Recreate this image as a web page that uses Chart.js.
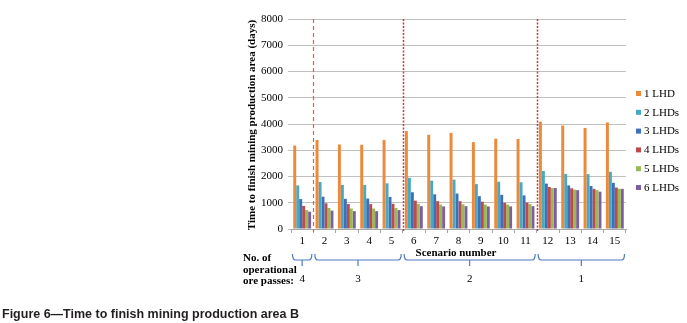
<!DOCTYPE html>
<html>
<head>
<meta charset="utf-8">
<script src="https://cdn.jsdelivr.net/npm/chart.js@4/dist/chart.umd.min.js"></script>
<style>
  html, body { margin: 0; padding: 0; background: #fff; }
  #wrap { width: 687px; height: 323px; position: relative; }
</style>
</head>
<body>
<div id="wrap"><canvas id="chart" width="687" height="323"></canvas></div>
<script>
// Scenario numbers on the x axis
const scenarios = ['1', '2', '3', '4', '5', '6', '7', '8', '9', '10', '11', '12', '13', '14', '15']

// Days to finish, one array per fleet size
const lhd1 = [3180, 3390, 3220, 3210, 3390, 3730, 3590, 3660, 3310, 3440, 3430, 4090, 3940, 3850, 4060]
const lhd2 = [1660, 1790, 1680, 1680, 1740, 1950, 1840, 1880, 1710, 1800, 1780, 2210, 2100, 2090, 2180]
const lhd3 = [1140, 1230, 1150, 1160, 1220, 1400, 1320, 1350, 1250, 1300, 1280, 1730, 1660, 1640, 1760]
const lhd4 = [880, 980, 950, 950, 960, 1080, 1060, 1060, 1040, 1000, 1010, 1600, 1550, 1530, 1580]
const lhd5 = [720, 800, 780, 780, 800, 960, 930, 940, 930, 930, 950, 1560, 1500, 1480, 1530]
const lhd6 = [660, 700, 680, 680, 720, 870, 860, 870, 860, 860, 870, 1560, 1480, 1420, 1530]

const seriesNames = ['1 LHD', '2 LHDs', '3 LHDs', '4 LHDs', '5 LHDs', '6 LHDs']
const seriesColors = ['#ec8a3c', '#48a9c5', '#3f6fb8', '#be4b48', '#98b954', '#7d5fa0']

// Ore pass groups: first and last scenario index of each, and the label under it
const groupFirst = [0, 1, 5, 11]
const groupLast = [0, 4, 10, 14]
const orePasses = ['4', '3', '2', '1']

const yTicks = [0, 1000, 2000, 3000, 4000, 5000, 6000, 7000, 8000]

const serif = '"Liberation Serif", "DejaVu Serif", serif'

const extras = {
  id: 'extras',
  afterDraw(chart) {
    const ctx = chart.ctx
    const x = chart.scales.x
    const area = chart.chartArea
    const catW = x.getPixelForValue(1) - x.getPixelForValue(0)
    const leftEdge = i => x.getPixelForValue(i) - catW / 2
    const rightEdge = i => x.getPixelForValue(i) + catW / 2
    ctx.save()

    // group dividers
    groupLast.slice(0, -1).forEach((last, k) => {
      const px = Math.round(rightEdge(last)) + 0.5
      ctx.beginPath()
      if (k === 0) {
        ctx.strokeStyle = '#e8602c'
        ctx.lineWidth = 1.2
        ctx.setLineDash([4, 3])
      } else {
        ctx.strokeStyle = '#c8393b'
        ctx.lineWidth = 1.5
        ctx.setLineDash([2, 1.5])
      }
      ctx.moveTo(px, area.top)
      ctx.lineTo(px, area.bottom + 3)
      ctx.stroke()
    })
    ctx.setLineDash([])

    // braces
    ctx.strokeStyle = '#4e7bbd'
    ctx.lineWidth = 1.2
    const by = 260
    groupFirst.forEach((first, k) => {
      const x0 = leftEdge(first) + 1.5
      const x1 = rightEdge(groupLast[k]) - 1.5
      const mid = (leftEdge(first) + rightEdge(groupLast[k])) / 2
      ctx.beginPath()
      ctx.moveTo(x0, by - 6)
      ctx.quadraticCurveTo(x0, by, x0 + 3, by)
      ctx.lineTo(x1 - 3, by)
      ctx.quadraticCurveTo(x1, by, x1, by - 6)
      ctx.moveTo(mid, by)
      ctx.lineTo(mid, by + 6)
      ctx.stroke()
      ctx.fillStyle = '#000'
      ctx.font = '11px ' + serif
      ctx.textAlign = 'center'
      ctx.textBaseline = 'middle'
      ctx.fillText(orePasses[k], mid, 279)
    })

    // axis and side texts
    ctx.fillStyle = '#000'
    ctx.font = 'bold 11px ' + serif
    ctx.textAlign = 'center'
    ctx.textBaseline = 'middle'
    ctx.fillText('Scenario number', 456, 253)

    ctx.textAlign = 'left'
    ctx.fillText('No. of', 243, 258)
    ctx.fillText('operational', 243, 270)
    ctx.fillText('ore passes:', 243, 281)

    ctx.save()
    ctx.translate(252, (area.top + area.bottom) / 2 + 1)
    ctx.rotate(-Math.PI / 2)
    ctx.textAlign = 'center'
    ctx.font = 'bold 11px ' + serif
    ctx.fillText('Time to finish mining production area (days)', 0, 0)
    ctx.restore()

    // legend
    ctx.font = '11px ' + serif
    ctx.textAlign = 'left'
    seriesNames.forEach((name, i) => {
      const ly = 94 + i * 18.8
      ctx.fillStyle = seriesColors[i]
      ctx.fillRect(636, ly - 3, 5, 5)
      ctx.fillStyle = '#000'
      ctx.fillText(name, 644, ly)
    })

    // caption
    ctx.font = 'bold 12.5px "Liberation Sans", Arial, sans-serif'
    ctx.fillStyle = '#231f20'
    ctx.fillText('Figure 6\u2014Time to finish mining production area B', 2, 315)
    ctx.restore()
  }
}

const datasets = [lhd1, lhd2, lhd3, lhd4, lhd5, lhd6].map((values, i) => ({
  label: seriesNames[i],
  data: values,
  backgroundColor: seriesColors[i],
  borderWidth: 0,
  categoryPercentage: 0.8,
  barPercentage: 1.0
}))

new Chart(document.getElementById('chart'), {
  type: 'bar',
  data: { labels: scenarios, datasets },
  options: {
    responsive: false,
    animation: false,
    layout: { padding: { left: 251, right: 61, top: 19, bottom: 74 } },
    plugins: { legend: { display: false }, tooltip: { enabled: false } },
    scales: {
      x: {
        afterFit: s => { s.height = 20 },
        grid: { display: true, drawOnChartArea: false, tickLength: 4, color: '#a6a6a6' },
        border: { color: '#a6a6a6' },
        ticks: { color: '#000', font: { family: serif, size: 11 }, padding: 2 }
      },
      y: {
        min: 0,
        max: 8000,
        afterFit: s => { s.width = 40 },
        afterBuildTicks: s => { s.ticks = yTicks.map(v => ({ value: v })) },
        grid: { color: '#c0c0c0', tickLength: 3 },
        border: { display: false },
        ticks: { color: '#000', font: { family: serif, size: 11 }, padding: 5, callback: v => String(v) }
      }
    }
  },
  plugins: [extras]
})
</script>
</body>
</html>
